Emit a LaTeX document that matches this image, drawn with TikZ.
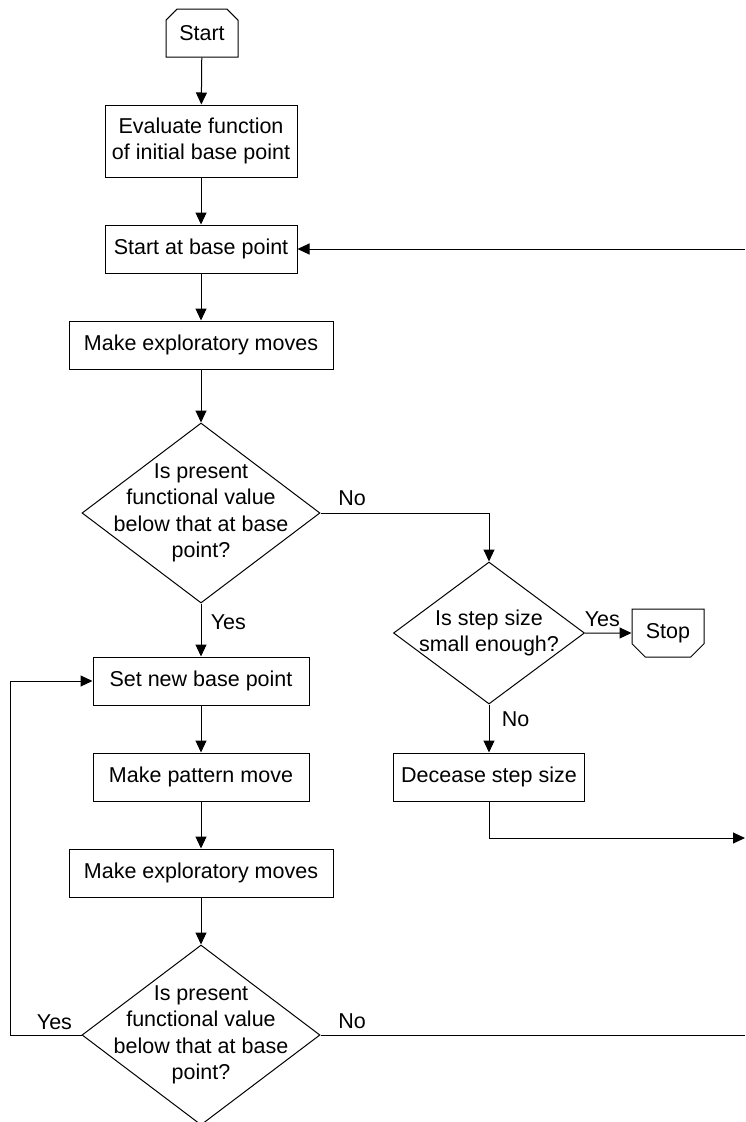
\documentclass[tikz,border=0pt]{standalone}
\usepackage{fontspec}
\setmainfont{Liberation Sans}
\usetikzlibrary{arrows.meta, positioning, shapes.geometric, shapes.misc}

\tikzset{
  box/.style={draw, rectangle, align=center, inner sep=0pt, line width=1pt},
  decision/.style={draw, diamond, inner sep=0pt, line width=1pt},
  dtext/.style={align=center, inner sep=0pt},
  term/.style={draw, chamfered rectangle, chamfered rectangle xsep=10pt,
    inner sep=0pt, line width=1pt, minimum width=72pt, minimum height=48pt},
  flow/.style={->, line width=1pt},
}

\begin{document}
\begin{tikzpicture}[x=1pt, y=-1pt, >={Triangle[length=12pt, width=11pt]},
  every node/.style={font=\fontsize{21.5}{26.5}\selectfont}]
  \useasboundingbox (0,0) rectangle (745,1122);

  % Main column
  \node[term, chamfered rectangle corners={north west, north east}] (start) at (202,33) {Start};
  \node[box, minimum width=192pt, minimum height=72pt] (eval) at (201,141)
    {Evaluate function\\of initial base point};
  \node[box, minimum width=192pt, minimum height=48pt] (base) at (201,249) {Start at base point};
  \node[box, minimum width=264pt, minimum height=48pt] (explore) at (201,345) {Make exploratory moves};
  \node[decision, minimum width=238pt, minimum height=180pt,
    label={[dtext]center:Is present\\functional value\\below that at base\\point?}] (test) at (201,513) {};

  % Step size branch
  \node[decision, minimum width=191pt, minimum height=142pt,
    label={[dtext]center:Is step size\\small enough?}] (small) at (489,633) {};
  \node[term, chamfered rectangle corners={south west, south east}] (stop) at (668,633) {Stop};
  \node[box, minimum width=191pt, minimum height=48pt] (decr) at (489,777) {Decease step size};

  % Pattern move
  \node[box, minimum width=216pt, minimum height=48pt] (newbase) at (201,681) {Set new base point};
  \node[box, minimum width=216pt, minimum height=48pt] (pattern) at (201,777) {Make pattern move};
  \node[box, minimum width=264pt, minimum height=48pt] (explore2) at (201,873) {Make exploratory moves};
  \node[decision, minimum width=238pt, minimum height=180pt,
    label={[dtext]center:Is present\\functional value\\below that at base\\point?}] (test2) at (201,1035) {};

  % Loose ends at the edges
  \coordinate (rin) at (745,249);
  \coordinate (rout) at (745,838);
  \coordinate (rno) at (745,1035);
  \coordinate (loop) at (10,1035);

  % Connectors
  \draw[flow] (start) -- (eval);
  \draw[flow] (eval) -- (base);
  \draw[flow] (rin) -- (base);
  \draw[flow] (base) -- (explore);
  \draw[flow] (explore) -- (test);
  \draw[flow] (test.east) -| (small.north)
    node[at start, anchor=south west, xshift=14pt, yshift=3pt] {No};
  \draw[flow] (test.south) -- (newbase)
    node[at start, anchor=north west, xshift=6pt, yshift=-7pt] {Yes};
  \draw[flow] (small.east) -- (stop)
    node[at start, anchor=south west, xshift=-4pt, yshift=2pt] {Yes};
  \draw[flow] (small.south) -- (decr)
    node[at start, anchor=north west, xshift=9pt, yshift=-3pt] {No};
  \draw[flow] (decr.south) |- (rout);
  \draw[flow] (newbase) -- (pattern);
  \draw[flow] (pattern) -- (explore2);
  \draw[flow] (explore2) -- (test2);
  \draw[flow] (test2.west) -- (loop) |- (newbase.west);
  \path (test2.west) node[anchor=south east, xshift=-6pt, yshift=2pt] {Yes};
  \draw[line width=1pt] (test2.east) -- (rno)
    node[at start, anchor=south west, xshift=14pt, yshift=2pt] {No};
\end{tikzpicture}
\end{document}
